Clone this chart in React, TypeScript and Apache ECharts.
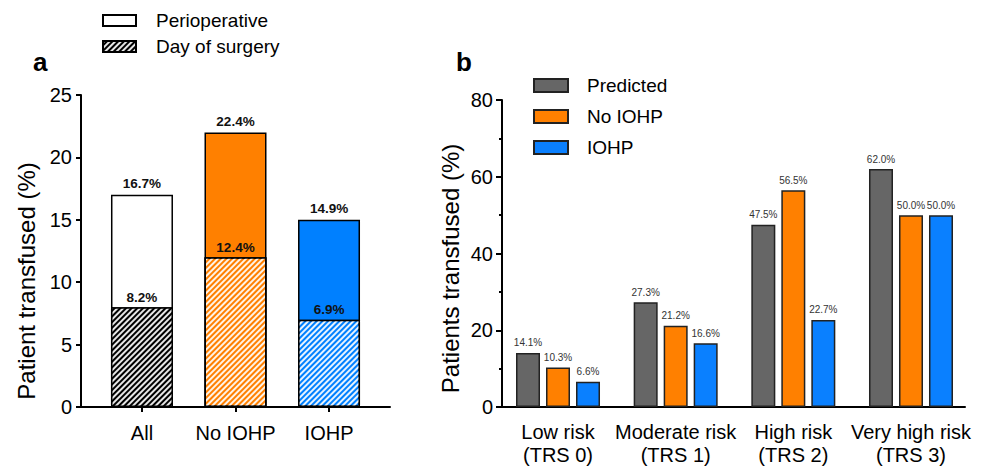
import React, { useEffect, useRef } from 'react';
import * as echarts from 'echarts';

// ---------- Panel a data ----------
const groupsA = ['All', 'No IOHP', 'IOHP'];
const periopHeights = [17, 22, 15];
const periopLabels = [16.7, 22.4, 14.9];
const dosHeights = [8, 12, 7];
const dosLabels = [8.2, 12.4, 6.9];
const periopColors = ['#ffffff', '#ff8000', '#0080ff'];
const dosColors = ['#000000', '#ff8000', '#0080ff'];
const ticksA = [0, 5, 10, 15, 20, 25];

// ---------- Panel b data ----------
const groupsB = ['Low risk\n(TRS 0)', 'Moderate risk\n(TRS 1)', 'High risk\n(TRS 2)', 'Very high risk\n(TRS 3)'];
const predicted = [14.1, 27.3, 47.5, 62.0];
const noIohp = [10.3, 21.2, 56.5, 50.0];
const iohp = [6.6, 16.6, 22.7, 50.0];
const ticksB = [0, 20, 40, 60, 80];

const FONT = "'Liberation Sans', Arial, Helvetica, sans-serif";

export default function App() {
  const ref = useRef<HTMLDivElement>(null);

  useEffect(() => {
    if (!ref.current) return;
    const chart = echarts.init(ref.current, undefined, { renderer: 'svg' });

    const hatch = {
      symbol: 'rect',
      symbolSize: 1,
      dashArrayX: [1, 0],
      dashArrayY: [1.2, 2],
      rotation: -Math.PI / 4,
      color: 'rgba(255,255,255,0.9)',
    };

    const idxA = groupsA.map((_, i) => i);
    const idxB = groupsB.map((_, i) => i);

    const option: any = {
      animation: false,
      textStyle: { fontFamily: FONT },
      title: [
        { text: 'a', left: 28, top: 44, textStyle: { fontSize: 26, fontWeight: 'bold', color: '#000', fontFamily: FONT } },
        { text: 'b', left: 451, top: 44, textStyle: { fontSize: 26, fontWeight: 'bold', color: '#000', fontFamily: FONT } },
      ],
      legend: [
        {
          data: ['Perioperative', 'Day of surgery'],
          orient: 'vertical',
          left: 102,
          top: 11,
          padding: 0,
          itemWidth: 33,
          itemHeight: 11,
          itemGap: 7,
          icon: 'rect',
          textStyle: { fontSize: 19, color: '#000', fontFamily: FONT, padding: [0, 0, 0, 15] },
        },
        {
          data: ['Predicted', 'No IOHP', 'IOHP'],
          orient: 'vertical',
          left: 533,
          top: 76,
          padding: 0,
          itemWidth: 34,
          itemHeight: 13,
          itemGap: 12,
          icon: 'rect',
          textStyle: { fontSize: 19, color: '#000', fontFamily: FONT, padding: [0, 0, 0, 14] },
        },
      ],
      grid: [
        { left: 81, top: 95, width: 309, height: 312 },
        { left: 502, top: 100, width: 463, height: 307 },
      ],
      xAxis: [
        {
          type: 'value',
          gridIndex: 0,
          min: -0.652,
          max: 2.652,
          splitLine: { show: false },
          axisLine: { show: true, onZero: false, lineStyle: { color: '#000', width: 2 } },
          axisTick: { show: true, customValues: idxA, length: 5, lineStyle: { color: '#000', width: 2 } },
          axisLabel: {
            customValues: idxA,
            formatter: (v: number) => groupsA[Math.round(v)] ?? '',
            fontSize: 20,
            color: '#000',
            margin: 16,
            fontFamily: FONT,
          },
        },
        {
          type: 'value',
          gridIndex: 1,
          min: -0.476,
          max: 3.459,
          splitLine: { show: false },
          axisLine: { show: true, onZero: false, lineStyle: { color: '#000', width: 2 } },
          axisTick: { show: false },
          axisLabel: {
            customValues: idxB,
            formatter: (v: number) => groupsB[Math.round(v)] ?? '',
            fontSize: 20,
            lineHeight: 23,
            color: '#000',
            margin: 13,
            fontFamily: FONT,
          },
        },
      ],
      yAxis: [
        {
          type: 'value',
          gridIndex: 0,
          min: ticksA[0],
          max: ticksA[ticksA.length - 1],
          interval: ticksA[1] - ticksA[0],
          name: 'Patient transfused (%)',
          nameLocation: 'middle',
          nameGap: 43,
          nameTextStyle: { fontSize: 24, color: '#000', fontFamily: FONT, padding: [0, 60, 0, 0] },
          splitLine: { show: false },
          axisLine: { show: true, onZero: false, lineStyle: { color: '#000', width: 2 } },
          axisTick: { show: true, length: 5, lineStyle: { color: '#000', width: 2 } },
          axisLabel: { fontSize: 20, color: '#000', margin: 9, fontFamily: FONT },
        },
        {
          type: 'value',
          gridIndex: 1,
          min: ticksB[0],
          max: ticksB[ticksB.length - 1],
          interval: ticksB[1] - ticksB[0],
          name: 'Patients transfused (%)',
          nameLocation: 'middle',
          nameGap: 40,
          nameTextStyle: { fontSize: 24, color: '#000', fontFamily: FONT, padding: [0, 30, 0, 0] },
          splitLine: { show: false },
          axisLine: { show: true, onZero: false, lineStyle: { color: '#000', width: 2 } },
          axisTick: { show: true, length: 6, lineStyle: { color: '#000', width: 2 } },
          minorTick: { show: true, splitNumber: 2, length: 3, lineStyle: { color: '#000', width: 2 } },
          axisLabel: { fontSize: 20, color: '#000', margin: 9, fontFamily: FONT },
        },
      ],
      series: [
        {
          name: 'Perioperative',
          type: 'bar',
          xAxisIndex: 0,
          yAxisIndex: 0,
          barWidth: 62,
          barGap: '-100%',
          itemStyle: { color: '#ffffff', borderColor: '#000', borderWidth: 1.5 },
          data: periopHeights.map((v, i) => ({ value: [i, v], itemStyle: { color: periopColors[i] } })),
          label: {
            show: true,
            position: 'top',
            distance: 4,
            fontSize: 13.5,
            fontWeight: 'bold',
            color: '#111',
            fontFamily: FONT,
            formatter: (p: any) => periopLabels[p.dataIndex].toFixed(1) + '%',
          },
        },
        {
          name: 'Day of surgery',
          type: 'bar',
          xAxisIndex: 0,
          yAxisIndex: 0,
          barWidth: 62,
          barGap: '-100%',
          itemStyle: { color: '#000000', borderColor: '#000', borderWidth: 1.5, decal: hatch },
          data: dosHeights.map((v, i) => ({ value: [i, v], itemStyle: { color: dosColors[i], decal: hatch } })),
          label: {
            show: true,
            position: 'top',
            distance: 3,
            fontSize: 13.5,
            fontWeight: 'bold',
            color: '#111',
            fontFamily: FONT,
            formatter: (p: any) => dosLabels[p.dataIndex].toFixed(1) + '%',
          },
        },
        ...[
          { name: 'Predicted', vals: predicted, color: '#666666' },
          { name: 'No IOHP', vals: noIohp, color: '#ff8000' },
          { name: 'IOHP', vals: iohp, color: '#0a80ff' },
        ].map((s) => ({
          name: s.name,
          type: 'bar',
          xAxisIndex: 1,
          yAxisIndex: 1,
          barWidth: 24,
          barGap: '25%',
          itemStyle: { color: s.color, borderColor: '#222', borderWidth: 1.5 },
          data: s.vals.map((v, i) => [idxB[i], v]),
          label: {
            show: true,
            position: 'top',
            distance: 5,
            fontSize: 10,
            color: '#333',
            fontFamily: FONT,
            formatter: (p: any) => Number(p.value[1]).toFixed(1) + '%',
          },
        })),
      ],
    };

    chart.setOption(option);
    return () => chart.dispose();
  }, []);

  return (
    <div
      ref={ref}
      style={{ position: 'fixed', left: 0, top: 0, width: 989, height: 467, background: '#fff' }}
    />
  );
}
